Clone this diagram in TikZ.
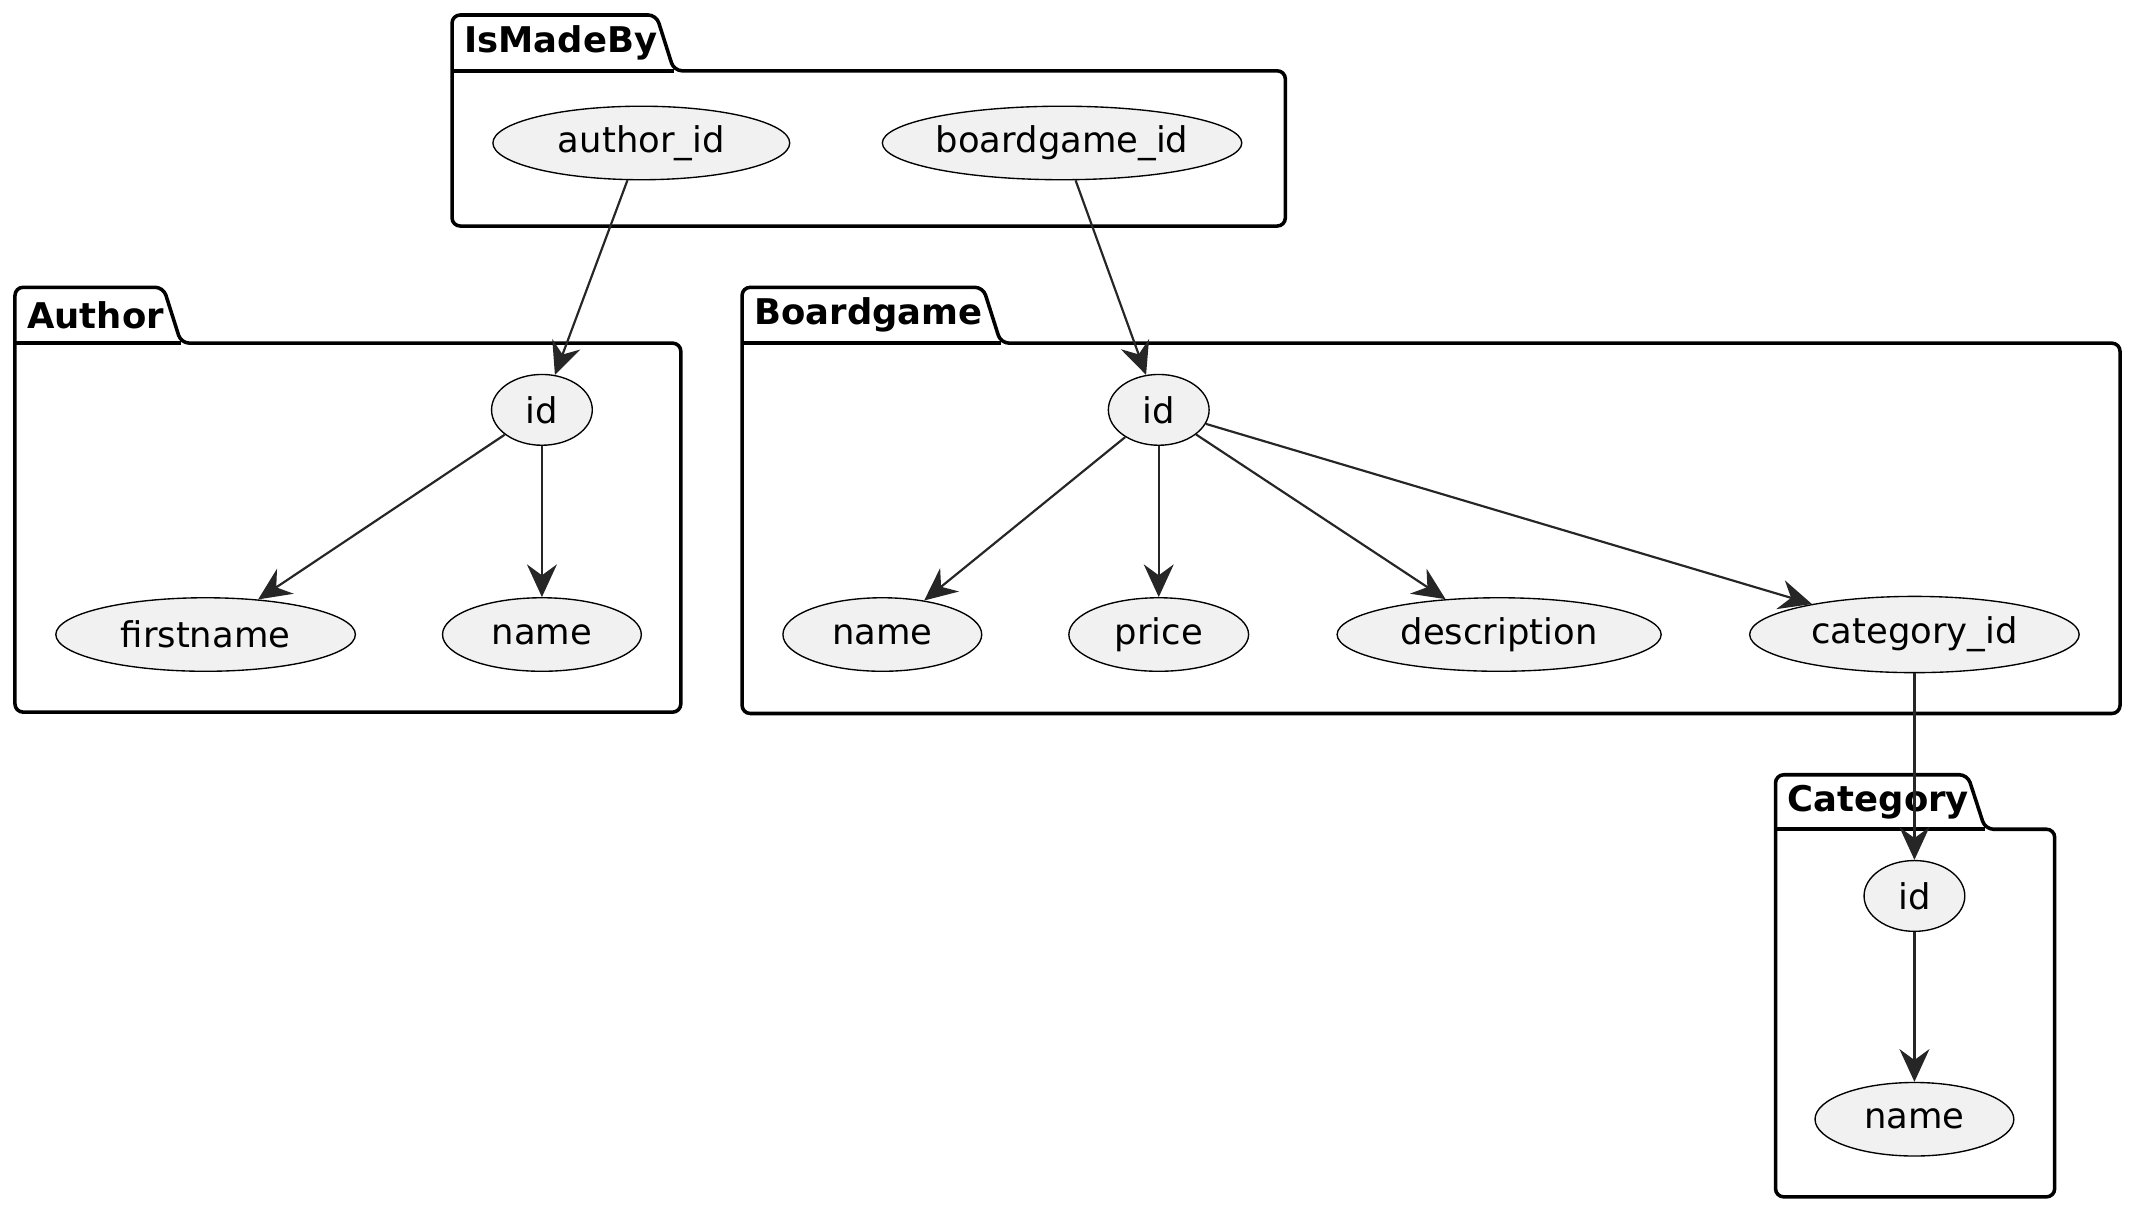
\documentclass[tikz,border=0pt]{standalone}
\usepackage{fontspec}
\setmainfont{DejaVu Sans}
\usetikzlibrary{arrows.meta,shapes.geometric}
\tikzset{>={Stealth[length=12pt,width=11pt,inset=4pt]}}
\definecolor{attrfill}{HTML}{F1F1F1}
\tikzset{
  attr/.style={ellipse,draw,line width=0.5pt,fill=attrfill,inner sep=0pt,font=\fontsize{13}{15}\selectfont},
  pkgline/.style={line width=1.3pt,rounded corners=3pt},
  link/.style={->,line width=0.8pt,draw=black!85}
}
% folder: x0, tab right, top, tab bottom, right, bottom, label
\newcommand{\folder}[7]{%
  \draw[pkgline] (#1,#4) -- (#1,#3) -- (#2-13,#3) -- (#2,#4) -- (#5,#4) -- (#5,#6) -- (#1,#6) -- cycle;
  \draw[line width=1.3pt] (#1,#4) -- (#2,#4);
  \node[anchor=west,font=\bfseries\fontsize{13}{15}\selectfont] at (#1+2,{(#3+#4)/2}) {#7};
}

\begin{document}
\begin{tikzpicture}[x=0.5pt,y=-0.5pt]
  \useasboundingbox (0,0) rectangle (1568,889);

  % Packages
  \folder{332}{495}{11}{52}{944}{166}{IsMadeBy}
  \folder{11}{133}{211}{252}{500}{523}{Author}
  \folder{545}{735}{211}{252}{1557}{524}{Boardgame}
  \folder{1304}{1458}{569}{609}{1509}{879}{Category}

  % IsMadeBy
  \node[attr,minimum width=109pt,minimum height=27pt] (authorid) at (471,105) {author\_id};
  \node[attr,minimum width=132pt,minimum height=27pt] (boardgameid) at (780,105) {boardgame\_id};

  % Author
  \node[attr,minimum width=37pt,minimum height=26pt] (aid) at (398,301) {id};
  \node[attr,minimum width=110pt,minimum height=27pt] (afirstname) at (151,466) {firstname};
  \node[attr,minimum width=73pt,minimum height=27pt] (aname) at (398,466) {name};

  % Boardgame
  \node[attr,minimum width=37pt,minimum height=26pt] (bid) at (851,301) {id};
  \node[attr,minimum width=73pt,minimum height=27pt] (bname) at (648,466) {name};
  \node[attr,minimum width=66pt,minimum height=27pt] (bprice) at (851,466) {price};
  \node[attr,minimum width=119pt,minimum height=27pt] (bdesc) at (1101,466) {description};
  \node[attr,minimum width=121pt,minimum height=28pt] (bcatid) at (1406,466) {category\_id};

  % Category
  \node[attr,minimum width=37pt,minimum height=26pt] (cid) at (1406,658) {id};
  \node[attr,minimum width=73pt,minimum height=27pt] (cname) at (1406,822) {name};

  % Links
  \draw[link] (authorid) -- (aid);
  \draw[link] (boardgameid) -- (bid);
  \draw[link] (aid) -- (afirstname);
  \draw[link] (aid) -- (aname);
  \draw[link] (bid) -- (bname);
  \draw[link] (bid) -- (bprice);
  \draw[link] (bid) -- (bdesc);
  \draw[link] (bid) -- (bcatid);
  \draw[link] (bcatid) -- (cid);
  \draw[link] (cid) -- (cname);
\end{tikzpicture}
\end{document}
